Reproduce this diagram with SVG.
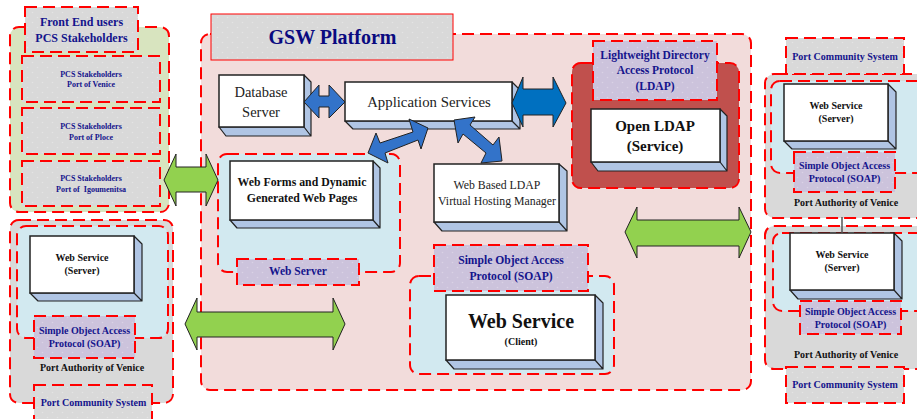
<svg xmlns="http://www.w3.org/2000/svg" width="917" height="419" viewBox="0 0 917 419">
<style>
text{font-family:"Liberation Serif","Times New Roman",serif;text-anchor:middle}
.n{fill:#14148c;font-weight:bold}
.k{fill:#111;font-weight:bold}
.c{stroke:#f00;stroke-width:2;stroke-dasharray:12 6}
.grey{fill:#d9d9d9}
.pink{fill:#f2dcdb}
.olive{fill:#d8e4bf}
.sky{fill:#d2e9f0}
.brick{fill:#c0504d}
.lg{fill:url(#dg);stroke:#f00;stroke-width:2;stroke-dasharray:12 6}
.ll{fill:url(#dl);stroke:#f00;stroke-width:2;stroke-dasharray:12 6}
.f{fill:#fff;stroke:#222;stroke-width:1.5}
.s{fill:#b0c5e4;stroke:#222;stroke-width:1.2;stroke-linejoin:round}
.ga{fill:#92d14f;stroke:#222;stroke-width:1}
.ba{fill:#3373c9;stroke:#222;stroke-width:1}
.da{fill:#0070c0;stroke:#222;stroke-width:1}
</style>
<defs>
<pattern id="dg" width="10" height="10" patternUnits="userSpaceOnUse"><rect width="10" height="10" fill="#d9d9d9"/><circle cx="2.5" cy="2.5" r="0.8" fill="#e4e4e4"/><circle cx="7.5" cy="7.5" r="0.8" fill="#e4e4e4"/></pattern>
<pattern id="dl" width="10" height="10" patternUnits="userSpaceOnUse"><rect width="10" height="10" fill="#ccc3dc"/><circle cx="2.5" cy="2.5" r="0.8" fill="#d9d2e5"/><circle cx="7.5" cy="7.5" r="0.8" fill="#d9d2e5"/></pattern>
</defs>

<g id="front-end-users">
<rect class="olive c" x="10" y="27" width="159" height="185" rx="9"/>
<rect class="lg" x="25" y="7" width="113" height="45"/>
<text class="n" font-size="12" x="81.500" y="26">Front End users</text>
<text class="n" font-size="12" x="81.500" y="42">PCS Stakeholders</text>
</g>
<g id="pcs-venice">
<rect class="lg" x="22" y="56" width="138" height="46"/>
<text class="n" font-size="8" x="91" y="77">PCS Stakeholders</text>
<text class="n" font-size="8" x="91" y="87">Port of Venice</text>
</g>
<g id="pcs-ploce">
<rect class="lg" x="22" y="108" width="138" height="46"/>
<text class="n" font-size="8" x="91" y="129">PCS Stakeholders</text>
<text class="n" font-size="8" x="91" y="140">Port of Ploce</text>
</g>
<g id="pcs-igoumenitsa">
<rect class="lg" x="22" y="161" width="138" height="45"/>
<text class="n" font-size="8" x="91" y="181">PCS Stakeholders</text>
<text class="n" font-size="8" x="91" y="192" xml:space="preserve">Port of  Igoumenitsa</text>
</g>

<g id="authority-left">
<rect class="grey c" x="10" y="220" width="163" height="183" rx="9"/>
<rect class="sky c" x="17" y="226" width="151" height="112" rx="9"/>
<path class="s" d="M134 236L142 244V301L134 293ZM30 293H134L142 301H38Z"/>
<rect class="f" x="30" y="236" width="104" height="57"/>
<text class="k" font-size="10" x="82" y="261">Web Service</text>
<text class="k" font-size="10" x="82" y="274">(Server)</text>
<rect class="ll" x="34" y="316" width="101" height="42"/>
<text class="n" font-size="10" x="84.500" y="334">Simple Object Access</text>
<text class="n" font-size="10" x="84.500" y="347">Protocol (SOAP)</text>
<text class="k" font-size="10" x="92" y="371">Port Authority of Venice</text>
<rect class="lg" x="34" y="385" width="118" height="38"/>
<text class="n" font-size="10" x="93.500" y="406">Port Community System</text>
</g>

<g id="gsw-platform">
<rect class="pink c" x="201" y="34" width="550" height="356" rx="9"/>
<rect fill="url(#dg)" stroke="#f00" stroke-width="1" x="211" y="14" width="242" height="46"/>
<text font-size="20" font-weight="bold" fill="#0a0a80" x="332.500" y="44">GSW Platform</text>
</g>

<g id="database-server">
<path class="s" d="M304 75L311 82V136L304 127ZM219 127H304L311 136H226Z"/>
<rect class="f" x="219" y="75" width="85" height="52"/>
<text font-size="14.500" fill="#222" x="261" y="97">Database</text>
<text font-size="14.500" fill="#222" x="261" y="117">Server</text>
</g>
<g id="application-services">
<path class="s" d="M512 82L520 90V129L512 121ZM345 121H512L520 129H353Z"/>
<rect class="f" x="345" y="82" width="167" height="39"/>
<text font-size="14.800" fill="#222" x="429" y="107">Application Services</text>
</g>
<g id="web-server">
<rect class="sky c" x="218" y="154" width="182" height="118" rx="9"/>
<path class="s" d="M373 161L380 168V228L373 220ZM230 220H373L380 228H237Z"/>
<rect class="f" x="230" y="161" width="143" height="59"/>
<text class="k" font-size="11.800" x="302" y="186">Web Forms and Dynamic</text>
<text class="k" font-size="11.800" x="302" y="202">Generated Web Pages</text>
<rect class="ll" x="237" y="259" width="122" height="26"/>
<text class="n" font-size="11.500" x="298" y="275">Web Server</text>
</g>
<g id="ldap-manager">
<path class="s" d="M559 164L567 171V231L559 222ZM434 222H559L567 231H442Z"/>
<rect class="f" x="434" y="164" width="125" height="58"/>
<text font-size="11.800" fill="#222" x="497" y="189">Web Based LDAP</text>
<text font-size="11.800" fill="#222" x="497" y="205">Virtual Hosting Manager</text>
</g>
<g id="open-ldap">
<rect class="brick c" x="572" y="63" width="167" height="125" rx="9"/>
<rect class="ll" x="593" y="41" width="124" height="59"/>
<text class="n" font-size="11.500" x="655" y="59">Lightweight Directory</text>
<text class="n" font-size="11.500" x="655" y="74">Access Protocol</text>
<text class="n" font-size="11.500" x="655" y="90">(LDAP)</text>
<path class="s" d="M720 109L727 116V171L720 162ZM591 162H720L727 171H598Z"/>
<rect class="f" x="591" y="109" width="129" height="53"/>
<text class="k" font-size="15" x="655" y="131">Open LDAP</text>
<text class="k" font-size="15" x="655" y="151">(Service)</text>
</g>
<g id="web-service-client">
<rect class="sky c" x="410" y="276" width="204" height="98" rx="9"/>
<rect class="ll" x="434" y="245" width="154" height="46"/>
<text class="n" font-size="11.600" x="511" y="264">Simple Object Access</text>
<text class="n" font-size="11.600" x="511" y="280">Protocol (SOAP)</text>
<path class="s" d="M595 295L603 303V369L595 360ZM446 360H595L603 369H454Z"/>
<rect class="f" x="446" y="295" width="149" height="65"/>
<text class="k" font-size="20" x="521" y="328">Web Service</text>
<text class="k" font-size="10" x="521" y="345">(Client)</text>
</g>

<g id="authority-right-1">
<rect class="grey c" x="765" y="74" width="162" height="144" rx="9"/>
<rect class="sky c" x="771" y="81" width="156" height="92" rx="9"/>
<path class="s" d="M888 84L896 92V149L888 141ZM784 141H888L896 149H792Z"/>
<rect class="f" x="784" y="84" width="104" height="57"/>
<text class="k" font-size="10" x="836" y="109">Web Service</text>
<text class="k" font-size="10" x="836" y="122">(Server)</text>
<rect class="ll" x="794" y="152" width="101" height="40"/>
<text class="n" font-size="10" x="844.500" y="169">Simple Object Access</text>
<text class="n" font-size="10" x="844.500" y="182">Protocol (SOAP)</text>
<text class="k" font-size="10" x="846" y="206">Port Authority of Venice</text>
</g>
<g id="community-right-top">
<rect class="lg" x="786" y="38" width="118" height="36"/>
<text class="n" font-size="10" x="845" y="60">Port Community System</text>
</g>
<g id="authority-right-2">
<rect class="grey c" x="765" y="226" width="162" height="143" rx="9"/>
<rect class="sky c" x="773" y="233" width="154" height="78" rx="9"/>
<path class="s" d="M894 233L902 241V299L894 290ZM790 290H894L902 299H798Z"/>
<rect class="f" x="790" y="233" width="104" height="57"/>
<text class="k" font-size="10" x="842" y="258">Web Service</text>
<text class="k" font-size="10" x="842" y="271">(Server)</text>
<rect class="ll" x="800" y="301" width="101" height="33"/>
<text class="n" font-size="10" x="850.500" y="315">Simple Object Access</text>
<text class="n" font-size="10" x="850.500" y="328">Protocol (SOAP)</text>
<text class="k" font-size="10" x="846" y="358">Port Authority of Venice</text>
</g>
<g id="community-right-bottom">
<rect class="lg" x="786" y="367" width="118" height="36"/>
<text class="n" font-size="10" x="845" y="388">Port Community System</text>
</g>

<g id="connectors">
<path d="M842 217V233" stroke="#555" stroke-width="1.500" fill="none"/>
<polygon class="ga" points="164,180 176,154 176,167 206,167 206,154 218,180 206,206 206,192 176,192 176,206"/>
<polygon class="ga" points="185,324 197,298 197,312 333,312 333,298 345,324 333,350 333,337 197,337 197,350"/>
<polygon class="ga" points="625,232 637,207 637,220 739,220 739,207 751,232 739,258 739,246 637,246 637,258"/>
<polygon class="ba" points="304,102 319,85 319,96 329,96 329,85 345,102 329,118 329,107 319,107 319,118"/>
<polygon class="da" points="512,103 523,77 523,89 553,89 553,77 566,103 553,127 553,115 523,115 523,127"/>
<polygon class="ba" points="428,128 421,149 418,140 385,153 388,163 368,153 376,133 380,143 413,132 409,119"/>
<polygon class="ba" points="454,120 475,117 470,125 493,145 499,137 502,161 481,163 486,153 463,134 458,143"/>
</g>
</svg>
